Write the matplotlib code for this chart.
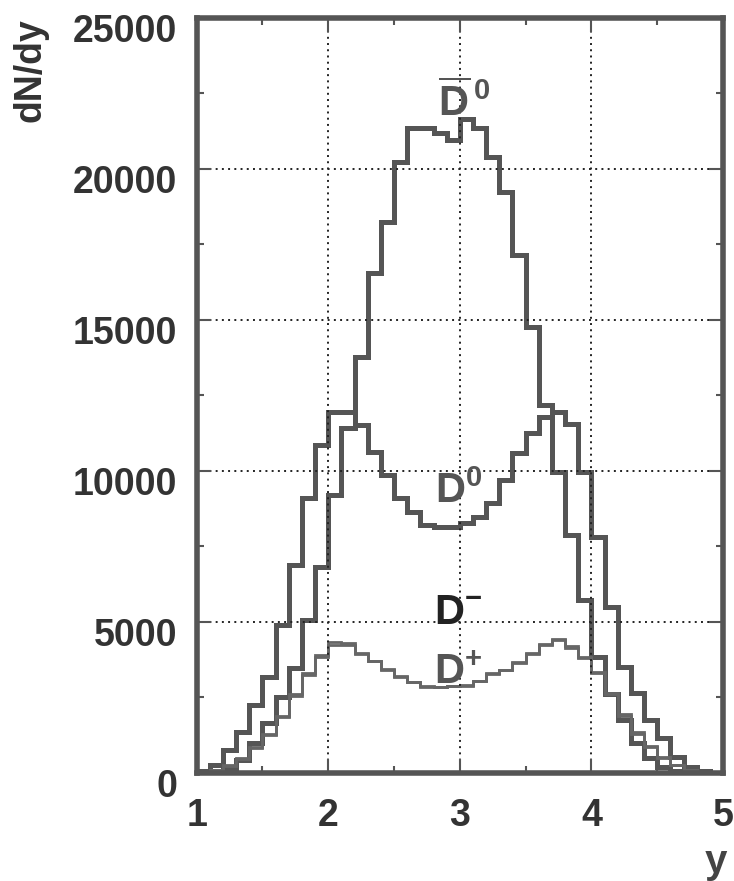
"""
dN/dy de mesones D (D0bar, D0, D-, D+) en funcion de la rapidez y.
Histogramas de 40 bines entre y=1 y y=5.
Salida: out.png
"""

import matplotlib
matplotlib.use("Agg")
import matplotlib.pyplot as plt
import matplotlib.ticker as ticker
import matplotlib.transforms as mtransforms
import numpy as np

plt.rcParams["font.family"] = ["Liberation Sans", "DejaVu Sans"]
plt.rcParams["mathtext.fontset"] = "custom"
plt.rcParams["mathtext.rm"] = "Liberation Sans"
plt.rcParams["mathtext.bf"] = "Liberation Sans:bold"

# bordes de los bines en y
edges = np.round(np.arange(1.0, 5.0001, 0.1), 2)

d0bar = [0, 30, 150, 430, 1000, 1650, 2520, 3480, 5060, 6820,
         9200, 11420, 13770, 16550, 18240, 20220, 21350, 21350, 21180, 20950,
         21650, 21350, 20390, 19230, 17150, 14760, 12200, 9980, 7880, 5730,
         3840, 2600, 1750, 1000, 500, 200, 60, 10, 0, 0]

d0 = [50, 265, 760, 1360, 2250, 3180, 4900, 6880, 9100, 10860,
      11950, 11950, 11520, 10620, 9860, 9100, 8650, 8200, 8150, 8150,
      8270, 8480, 8940, 9700, 10590, 11250, 11780, 11950, 11550, 9960,
      7810, 5500, 3510, 2650, 1750, 1160, 530, 200, 50, 10]

d_minus = [20, 100, 250, 500, 850, 1300, 1900, 2600, 3300, 3900,
           4350, 4300, 3980, 3720, 3430, 3200, 3020, 2870, 2860, 2880,
           2900, 3060, 3300, 3420, 3680, 3980, 4280, 4450, 4200, 3850,
           3350, 2650, 1950, 1350, 880, 520, 270, 110, 30, 10]

d_plus = [20, 90, 230, 470, 820, 1250, 1850, 2550, 3250, 3850,
          4250, 4250, 3950, 3700, 3400, 3180, 3000, 2850, 2840, 2870,
          2880, 3030, 3280, 3400, 3650, 3950, 4250, 4400, 4150, 3800,
          3300, 2600, 1900, 1300, 850, 500, 250, 100, 30, 10]

LINE = "#555555"

fig = plt.figure(figsize=(7.34, 8.81), dpi=100)
ax = fig.add_axes([0.268, 0.1226, 0.717, 0.857])

ax.stairs(d0bar, edges, color=LINE, linewidth=3.6)
ax.stairs(d0, edges, color=LINE, linewidth=3.6)
ax.stairs(d_minus, edges, color="#666666", linewidth=2.0)
ax.stairs(d_plus, edges, color="#666666", linewidth=2.0)

ax.set_xlim(1, 5)
ax.set_ylim(0, 25000)
ax.xaxis.set_major_locator(ticker.MultipleLocator(1))
ax.xaxis.set_minor_locator(ticker.MultipleLocator(0.5))
ax.yaxis.set_major_locator(ticker.MultipleLocator(5000))
ax.yaxis.set_minor_locator(ticker.MultipleLocator(2500))
ax.yaxis.set_major_formatter(ticker.FuncFormatter(lambda v, _: f"{v:.0f}"))

ax.grid(True, which="major", color="#222222", linestyle=(0, (1, 2.2)), linewidth=1.4)
ax.tick_params(which="both", direction="in", top=True, right=True,
               colors=LINE, width=1.5, labelcolor="#333333")
ax.tick_params(which="major", length=10)
ax.tick_params(which="minor", length=5)
ax.tick_params(axis="y", labelsize=27, pad=14)
ax.tick_params(axis="x", labelsize=27, pad=18)
for lab in ax.get_yticklabels() + ax.get_xticklabels():
    lab.set_fontweight("bold")
# las etiquetas del eje y quedan un poco por debajo de su marca
off = mtransforms.ScaledTranslation(0, -10 / 100, fig.dpi_scale_trans)
for lab in ax.get_yticklabels():
    lab.set_transform(lab.get_transform() + off)

for s in ax.spines.values():
    s.set_color(LINE)
    s.set_linewidth(4)

fig.text(0.041, 0.92, "dN/dy", rotation=90, ha="center", va="center",
         fontsize=27, fontweight="bold", color="#333333")
fig.text(0.975, 0.0, "y", ha="center", va="bottom",
         fontsize=29, fontweight="bold", color="#444444")

lab_kw = dict(ha="center", va="center", fontsize=30)
ax.text(3.03, 22200, r"$\overline{\mathbf{D}}^{\,\mathbf{0}}$", color=LINE, **lab_kw)
ax.text(2.99, 9300, r"$\mathbf{D}^{\mathbf{0}}$", color=LINE, **lab_kw)
ax.text(2.99, 5300, r"$\mathbf{D}^{\mathbf{-}}$", color="#222222", **lab_kw)
ax.text(2.99, 3300, r"$\mathbf{D}^{\mathbf{+}}$", color="#555555", **lab_kw)

fig.savefig("out.png", dpi=100)
plt.close(fig)
